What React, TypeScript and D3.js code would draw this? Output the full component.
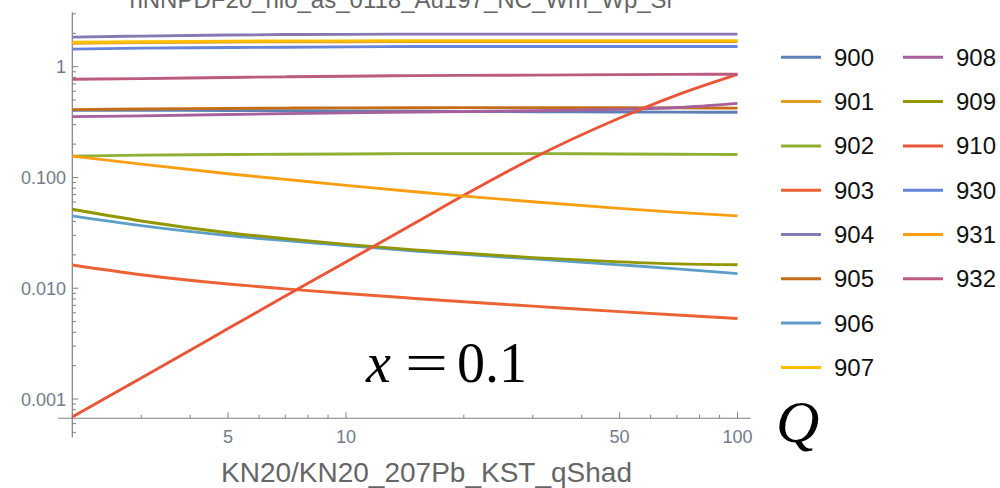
import React from "react";
import * as d3 from "d3";

// Q grid shared by all curves
const Q = [2, 3, 5, 7, 10, 15, 20, 30, 50, 70, 100];

const s900 = [0.405, 0.404, 0.402, 0.4, 0.398, 0.396, 0.394, 0.392, 0.39, 0.389, 0.388];
const s901 = [1.63, 1.65, 1.67, 1.68, 1.68, 1.69, 1.69, 1.69, 1.69, 1.69, 1.69];
const s902 = [0.156, 0.159, 0.161, 0.162, 0.163, 0.164, 0.164, 0.164, 0.163, 0.162, 0.161];
const s903 = [0.0162, 0.01324, 0.01091, 0.00987, 0.00895, 0.00809, 0.00755, 0.00689, 0.00615, 0.00573, 0.00533];
const s904 = [1.85, 1.89, 1.93, 1.95, 1.96, 1.97, 1.97, 1.97, 1.97, 1.97, 1.97];
const s905 = [0.41, 0.415, 0.42, 0.423, 0.425, 0.426, 0.427, 0.427, 0.426, 0.425, 0.423];
const s906 = [0.045, 0.0367, 0.0299, 0.0269, 0.0243, 0.0217, 0.0202, 0.0184, 0.01626, 0.01494, 0.01355];
const s907 = [1.66, 1.68, 1.7, 1.71, 1.71, 1.72, 1.72, 1.72, 1.72, 1.72, 1.72];
const s908 = [0.354, 0.36, 0.37, 0.377, 0.383, 0.39, 0.394, 0.4, 0.412, 0.428, 0.467];
const s909 = [0.0516, 0.0405, 0.0317, 0.028, 0.0249, 0.0222, 0.0207, 0.0189, 0.0173, 0.0166, 0.0163];
const s910 = [0.00069, 0.00155, 0.00432, 0.00849, 0.01726, 0.0388, 0.069, 0.149, 0.344, 0.555, 0.853];
const s930 = [1.44, 1.47, 1.49, 1.5, 1.51, 1.52, 1.52, 1.52, 1.52, 1.52, 1.52];
const s931 = [0.156, 0.132, 0.108, 0.096, 0.0848, 0.0743, 0.0679, 0.0603, 0.0526, 0.0484, 0.045];
const s932 = [0.77, 0.78, 0.8, 0.81, 0.82, 0.83, 0.835, 0.84, 0.848, 0.852, 0.855];

const names = ["900", "901", "902", "903", "904", "905", "906", "907", "908", "909", "910", "930", "931", "932"];
const colors = [
  "#5e81b5", "#e19c24", "#8fb032", "#eb6235", "#8778b3", "#c56e1a", "#5d9ec7",
  "#ffbf00", "#a5609d", "#929600", "#e95536", "#6685d9", "#f89f13", "#bc5b80",
];
const values = [s900, s901, s902, s903, s904, s905, s906, s907, s908, s909, s910, s930, s931, s932];

const title = "nNNPDF20_nlo_as_0118_Au197_NC_Wm_Wp_Sr";
const xTitle = "KN20/KN20_207Pb_KST_qShad";
const xMajor = [5, 10, 50, 100];
const yMajor = [1, 0.1, 0.01, 0.001];
const yLabels = ["1", "0.100", "0.010", "0.001"];

const W = 1000;
const H = 488;
const serif = "'Liberation Serif', 'DejaVu Serif', serif";

export default function App() {
  const x = d3.scaleLog().domain([2, 100]).range([72.3, 737.5]);
  const y = d3.scaleLog().domain([1, 0.001]).range([66.7, 399]);
  const axisColor = "#808080";
  const tickColor = "#737c8c";

  // axis extents (a bit past the data, Mathematica style)
  const xAxisExt = [1.84, 108];
  const yAxisExt = [0.00045, 3.1];
  const x0 = x(2);
  const y0 = y(0.00067);

  const xMinor: number[] = [];
  [1, 10].forEach((d) => {
    for (let m = 2; m <= 9; m++) {
      const v = m * d;
      if (v >= 2 && v <= 100 && !xMajor.includes(v)) xMinor.push(v);
    }
  });
  const yMinor: number[] = [];
  [0.0001, 0.001, 0.01, 0.1, 1].forEach((d) => {
    for (let m = 2; m <= 9; m++) {
      const v = m * d;
      if (v >= yAxisExt[0] && v <= yAxisExt[1]) yMinor.push(v);
    }
  });

  const line = d3
    .line<number>()
    .x((_, i) => x(Q[i]))
    .y((d) => y(d))
    .curve(d3.curveMonotoneX);

  const legendRows = 8;

  return (
    <svg
      width={W}
      height={H}
      style={{ position: "absolute", left: 0, top: 0, background: "#fff" }}
      fontFamily="'Liberation Sans', Arial, sans-serif"
    >
      <text x={402} y={8} textAnchor="middle" fontSize={24} fill="#666">
        {title}
      </text>

      {/* axes */}
      <line x1={x(xAxisExt[0])} x2={x(xAxisExt[1])} y1={y0} y2={y0} stroke={axisColor} strokeWidth={1.2} />
      <line x1={x0} x2={x0} y1={y(yAxisExt[0])} y2={y(yAxisExt[1])} stroke={axisColor} strokeWidth={1.2} />

      {xMajor.map((v) => (
        <g key={"xm" + v}>
          <line x1={x(v)} x2={x(v)} y1={y0} y2={y0 - 6} stroke={axisColor} strokeWidth={1} />
          <text x={x(v)} y={y0 + 25} textAnchor="middle" fontSize={18} fill={tickColor}>
            {v}
          </text>
        </g>
      ))}
      {xMinor.map((v) => (
        <line key={"xn" + v} x1={x(v)} x2={x(v)} y1={y0} y2={y0 - 3.5} stroke={axisColor} strokeWidth={1} />
      ))}
      {yMajor.map((v, i) => (
        <g key={"ym" + v}>
          <line x1={x0} x2={x0 + 6} y1={y(v)} y2={y(v)} stroke={axisColor} strokeWidth={1} />
          <text x={66} y={y(v) + 6.5} textAnchor="end" fontSize={18} fill={tickColor}>
            {yLabels[i]}
          </text>
        </g>
      ))}
      {yMinor.map((v) => (
        <line key={"yn" + v} x1={x0} x2={x0 + 3.7} y1={y(v)} y2={y(v)} stroke={axisColor} strokeWidth={1} />
      ))}

      {/* curves */}
      {values.map((vals, i) => (
        <path
          key={names[i]}
          d={line(vals) || ""}
          fill="none"
          stroke={colors[i]}
          strokeWidth={2.9}
          strokeLinejoin="round"
        />
      ))}

      <text x={221} y={482} fontSize={28} fill="#666">
        {xTitle}
      </text>

      {/* x = 0.1 annotation */}
      <text x={366} y={382} fontSize={56} fontStyle="italic" fontFamily={serif} fill="#000">
        x
      </text>
      <text x={405} y={382} fontSize={56} fontFamily={serif} fill="#000" textLength={43} lengthAdjust="spacingAndGlyphs">
        =
      </text>
      <text x={457} y={382} fontSize={56} fontFamily={serif} fill="#000">
        0.1
      </text>
      <text x={776} y={442} fontSize={60} fontStyle="italic" fontFamily={serif} fill="#000">
        Q
      </text>

      {/* legend */}
      {names.map((n, i) => {
        const col = Math.floor(i / legendRows);
        const row = i % legendRows;
        const lx = col === 0 ? 781 : 903;
        const ly = 57.3 + row * 44.3;
        return (
          <g key={"lg" + n}>
            <line x1={lx} x2={lx + 40} y1={ly} y2={ly} stroke={colors[i]} strokeWidth={3} />
            <text x={lx + 53} y={ly + 8.5} fontSize={24} fill="#111">
              {n}
            </text>
          </g>
        );
      })}
    </svg>
  );
}
